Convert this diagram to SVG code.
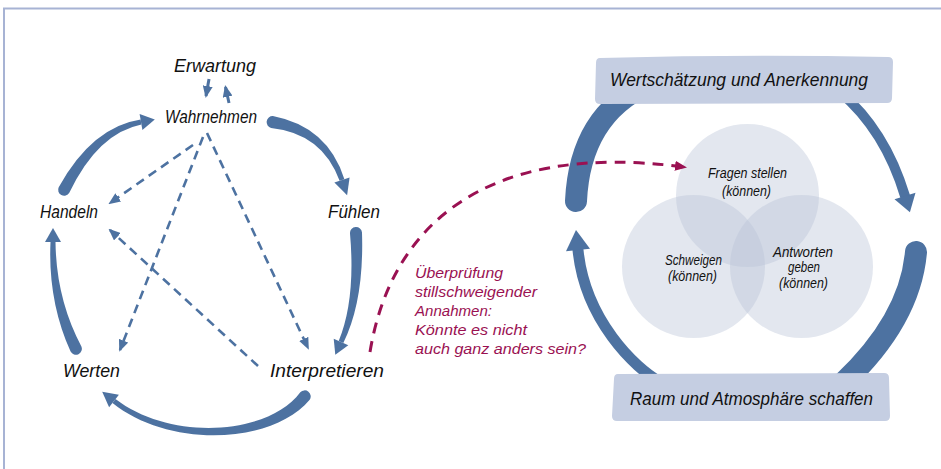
<svg xmlns="http://www.w3.org/2000/svg" width="941" height="469" viewBox="0 0 941 469">
<style>
.lbl{font-family:"Liberation Sans",Arial,sans-serif;font-style:italic;fill:#111;}
.big{font-size:19px;}
.sm{font-size:14px;}
.mag{font-family:"Liberation Sans",Arial,sans-serif;font-style:italic;font-size:15.5px;fill:#9a1152;}
.blue{fill:#4d72a1;}
.dash{fill:none;stroke:#4d72a1;stroke-width:2.6;stroke-dasharray:9 6;}
.thin{fill:none;stroke:#4d72a1;stroke-width:3;}
.ring{fill:none;stroke:#4d72a1;stroke-linecap:round;}
.venn{fill:#b8c4d8;fill-opacity:0.4;}
.box{fill:#c5cee2;}
</style>
<defs>
<marker id="ab" markerUnits="userSpaceOnUse" markerWidth="12" markerHeight="10" viewBox="0 0 12 10" refX="10" refY="5" orient="auto">
<path d="M0,0 L12,5 L0,10 Z" fill="#4d72a1"/>
</marker>
<marker id="am" markerUnits="userSpaceOnUse" markerWidth="12" markerHeight="10" viewBox="0 0 12 10" refX="9" refY="5" orient="auto">
<path d="M0,0 L12,5 L0,10 Z" fill="#9a1152"/>
</marker>
</defs>
<path d="M3 8.5 H941 M4 8 V469" fill="none" stroke="#a7b3d4" stroke-width="2"/>

<g id="venn">
<circle class="venn" cx="747.5" cy="195.5" r="71.5"/>
<circle class="venn" cx="693.5" cy="266.5" r="71.5"/>
<circle class="venn" cx="801.5" cy="266.5" r="71.5"/>
</g>

<g id="connectors">
<path class="blue" d="M 271.1 127.9 Q 322.3 133.3 339.6 180.8 L 344.4 179.2 Q 327.7 126.7 272.9 116.1 A 6 6 0 0 0 271.1 127.9 Z"/>
<polygon class="blue" points="349.6,177.4 334.4,182.6 347.1,195.2"/>
<path class="blue" d="M 350 233.4 Q 355.8 299.4 338.7 341 L 343.3 343 Q 364.2 300.6 362 232.6 A 6 6 0 0 0 350 233.4 Z"/>
<polygon class="blue" points="333.7,338.7 348.3,345.3 335.3,354.7"/>
<path class="blue" d="M 300.3 392.3 C 268.3 435.3 170.9 441.6 115.5 399 L 112.5 403 C 169.1 448.4 271.7 444.7 309.7 399.7 A 6 6 0 0 0 300.3 392.3 Z"/>
<polygon class="blue" points="118.9,394.7 109.1,407.3 102.2,391.8"/>
<path class="blue" d="M 81.4 346.4 Q 56.2 299.1 55.5 242 L 50.5 242 Q 47.8 300.9 70.6 351.6 A 6 6 0 0 0 81.4 346.4 Z"/>
<polygon class="blue" points="45,242 61,242 53,228"/>
<path class="blue" d="M 69.3 192.8 Q 97.8 133.2 141.4 124.5 L 140.6 119.5 Q 92.2 126.8 58.7 187.2 A 6 6 0 0 0 69.3 192.8 Z"/>
<polygon class="blue" points="142.4,129.9 139.6,114.1 154.8,119.6"/>
<path class="thin" d="M 209 79 L 206 96" marker-end="url(#ab)"/>
<path class="thin" d="M 229 103 L 225.5 87" marker-end="url(#ab)"/>
<path class="dash" d="M 193 145 L 110 203" marker-end="url(#ab)"/>
<path class="dash" d="M 203 137 L 120 350" marker-end="url(#ab)"/>
<path class="dash" d="M 207 133 L 308 348" marker-end="url(#ab)"/>
<path class="dash" d="M 258 366 L 110 230" marker-end="url(#ab)"/>
<path class="ring" stroke-width="22" d="M 648 84 Q 580 115 576 201"/>
<path class="ring" stroke-width="10" stroke-linecap="butt" d="M 840 92 Q 885 130 905 196"/>
<polygon class="blue" points="915.5,192.8 894.5,199.2 909.9,212.3"/>
<path class="ring" stroke-width="22" d="M 916 252 Q 910 320 843 383"/>
<path class="ring" stroke-width="11" stroke-linecap="butt" d="M 660 382 C 635 368 585 320 578 250"/>
<polygon class="blue" points="590,248.8 566,251.2 576,230"/>
</g>

<g id="box-top">
<path class="box" d="M 600 58 Q 745 54 888 57 Q 893 57 893 62 L 892 98 Q 892 103 887 103 L 600 104 Q 595 104 595 99 L 596 63 Q 596 58 600 58 Z"/>
<text class="lbl big" x="610" y="86" textLength="258" lengthAdjust="spacingAndGlyphs">Wertschätzung und Anerkennung</text>
</g>
<g id="box-bottom">
<path class="box" d="M 618 374 L 884 373 Q 889 373 889 378 L 890 416 Q 890 421 885 421 L 617 421 Q 612 421 612 416 L 614 379 Q 614 374 618 374 Z"/>
<text class="lbl big" x="630" y="405" textLength="243" lengthAdjust="spacingAndGlyphs">Raum und Atmosphäre schaffen</text>
</g>

<g id="n-erwartung"><text class="lbl big" x="174" y="72" textLength="82" lengthAdjust="spacingAndGlyphs">Erwartung</text></g>
<g id="n-wahrnehmen"><text class="lbl big" x="165" y="123" textLength="92" lengthAdjust="spacingAndGlyphs">Wahrnehmen</text></g>
<g id="n-handeln"><text class="lbl big" x="40" y="218" textLength="58" lengthAdjust="spacingAndGlyphs">Handeln</text></g>
<g id="n-fuehlen"><text class="lbl big" x="328" y="218" textLength="52" lengthAdjust="spacingAndGlyphs">Fühlen</text></g>
<g id="n-werten"><text class="lbl big" x="63" y="377" textLength="57" lengthAdjust="spacingAndGlyphs">Werten</text></g>
<g id="n-interpretieren"><text class="lbl big" x="270" y="377" textLength="114" lengthAdjust="spacingAndGlyphs">Interpretieren</text></g>

<g id="n-fragen">
<text class="lbl sm" x="708" y="178" textLength="79" lengthAdjust="spacingAndGlyphs">Fragen stellen</text>
<text class="lbl sm" x="722" y="196" textLength="49" lengthAdjust="spacingAndGlyphs">(können)</text>
</g>
<g id="n-schweigen">
<text class="lbl sm" x="665" y="265" textLength="57" lengthAdjust="spacingAndGlyphs">Schweigen</text>
<text class="lbl sm" x="668" y="281" textLength="49" lengthAdjust="spacingAndGlyphs">(können)</text>
</g>
<g id="n-antworten">
<text class="lbl sm" x="773" y="257" textLength="60" lengthAdjust="spacingAndGlyphs">Antworten</text>
<text class="lbl sm" x="788" y="272" textLength="32" lengthAdjust="spacingAndGlyphs">geben</text>
<text class="lbl sm" x="779" y="288" textLength="49" lengthAdjust="spacingAndGlyphs">(können)</text>
</g>

<g id="n-ueberpruefung">
<text class="mag" x="415" y="278" textLength="88" lengthAdjust="spacingAndGlyphs">Überprüfung</text>
<text class="mag" x="415" y="297" textLength="122" lengthAdjust="spacingAndGlyphs">stillschweigender</text>
<text class="mag" x="415" y="316" textLength="77" lengthAdjust="spacingAndGlyphs">Annahmen:</text>
<text class="mag" x="415" y="335" textLength="112" lengthAdjust="spacingAndGlyphs">Könnte es nicht</text>
<text class="mag" x="415" y="354" textLength="171" lengthAdjust="spacingAndGlyphs">auch ganz anders sein?</text>
</g>

<g id="connector-magenta">
<path d="M 370 352 C 390 230 480 140 684 167" fill="none" stroke="#9a1152" stroke-width="3" stroke-dasharray="11 8" marker-end="url(#am)"/>
</g>
</svg>
